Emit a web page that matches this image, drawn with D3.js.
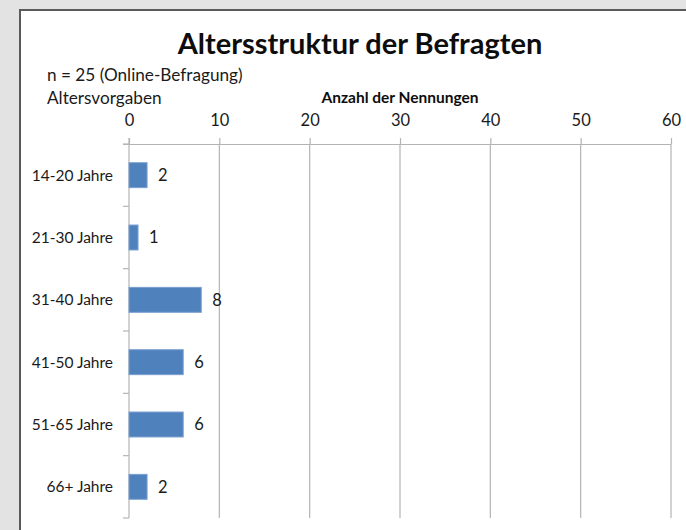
<!DOCTYPE html>
<html>
<head>
<meta charset="utf-8">
<script src="https://cdn.jsdelivr.net/npm/d3@7"></script>
<style>
  html, body { margin: 0; padding: 0; background: #e3e3e3; }
  svg { display: block; }
</style>
</head>
<body>
<svg id="chart" width="686" height="530"></svg>
<script>
// Altersgruppen und Anzahl der Nennungen
const categories = ["14-20 Jahre", "21-30 Jahre", "31-40 Jahre", "41-50 Jahre", "51-65 Jahre", "66+ Jahre"];
const counts = [2, 1, 8, 6, 6, 2];
const xTicks = [0, 10, 20, 30, 40, 50, 60];

const font = "Lato, 'Open Sans', sans-serif";
const svg = d3.select("#chart");

// white sheet with dark edge on the top and left
svg.append("rect")
  .attr("x", 20).attr("y", 10)
  .attr("width", 700).attr("height", 560)
  .attr("fill", "#ffffff")
  .attr("stroke", "#5a5a5a")
  .attr("stroke-width", 2);

const plot = { left: 129, right: 671, top: 144, bottom: 518 };

const x = d3.scaleLinear().domain([0, 60]).range([plot.left, plot.right]);
const y = d3.scaleBand().domain(categories)
  .range([plot.top, plot.bottom])
  .paddingInner(0.6).paddingOuter(0.3);

const gridColor = "#b4b4b4";

// vertical gridlines
svg.append("g").selectAll("line")
  .data(xTicks.filter(t => t > 0))
  .join("line")
  .attr("x1", d => x(d)).attr("x2", d => x(d))
  .attr("y1", plot.top).attr("y2", plot.bottom)
  .attr("stroke", gridColor).attr("stroke-width", 1.2);

// top value axis
const xAxis = d3.axisTop(x).tickValues(xTicks).tickSize(6).tickPadding(12).tickFormat(d3.format("d"));
const gx = svg.append("g").attr("transform", `translate(0,${plot.top})`).call(xAxis);
gx.select(".domain").attr("stroke", gridColor).attr("stroke-width", 1.2)
  .attr("d", `M${plot.left - 6},0.5H${plot.right}`);
gx.selectAll(".tick line").attr("stroke", gridColor).attr("stroke-width", 1.2);
gx.selectAll(".tick text")
  .attr("font-family", font).attr("font-size", 16.5).attr("fill", "#1a1a1a");

// category axis with ticks at band boundaries
svg.append("line")
  .attr("x1", plot.left).attr("x2", plot.left)
  .attr("y1", plot.top - 6).attr("y2", plot.bottom)
  .attr("stroke", gridColor).attr("stroke-width", 1.2);
const bounds = categories.map(c => y(c) - y.step() * 0.3).concat([plot.bottom]);
svg.append("g").selectAll("line")
  .data(bounds)
  .join("line")
  .attr("x1", plot.left - 6).attr("x2", plot.left)
  .attr("y1", d => d).attr("y2", d => d)
  .attr("stroke", gridColor).attr("stroke-width", 1.2);

svg.append("g").selectAll("text")
  .data(categories)
  .join("text")
  .attr("x", plot.left - 16)
  .attr("y", d => y(d) + y.bandwidth() / 2)
  .attr("dy", "0.35em")
  .attr("text-anchor", "end")
  .attr("font-family", font).attr("font-size", 15.5).attr("fill", "#1a1a1a")
  .text(d => d);

// bars
svg.append("g").selectAll("rect")
  .data(categories)
  .join("rect")
  .attr("x", x(0))
  .attr("y", (d) => y(d))
  .attr("width", (d, i) => x(counts[i]) - x(0))
  .attr("height", y.bandwidth())
  .attr("fill", "#4f81bd")
  .attr("stroke", "#7aa0d0")
  .attr("stroke-width", 1);

// value labels
svg.append("g").selectAll("text")
  .data(categories)
  .join("text")
  .attr("x", (d, i) => x(counts[i]) + 11)
  .attr("y", d => y(d) + y.bandwidth() / 2)
  .attr("dy", "0.35em")
  .attr("font-family", font).attr("font-size", 16.5).attr("fill", "#1a1a1a")
  .text((d, i) => counts[i]);

// titles
svg.append("text")
  .attr("x", 360).attr("y", 54)
  .attr("text-anchor", "middle")
  .attr("font-family", font).attr("font-weight", "bold").attr("font-size", 29).attr("fill", "#0d0d0d")
  .text("Altersstruktur der Befragten");

svg.append("text")
  .attr("x", 47).attr("y", 81)
  .attr("font-family", font).attr("font-size", 17.2).attr("fill", "#1a1a1a")
  .text("n = 25 (Online-Befragung)");

svg.append("text")
  .attr("x", 47).attr("y", 104)
  .attr("font-family", font).attr("font-size", 17.2).attr("fill", "#1a1a1a")
  .text("Altersvorgaben");

svg.append("text")
  .attr("x", 400).attr("y", 103)
  .attr("text-anchor", "middle")
  .attr("font-family", font).attr("font-weight", "bold").attr("font-size", 15.5).attr("fill", "#0d0d0d")
  .text("Anzahl der Nennungen");
</script>
</body>
</html>
